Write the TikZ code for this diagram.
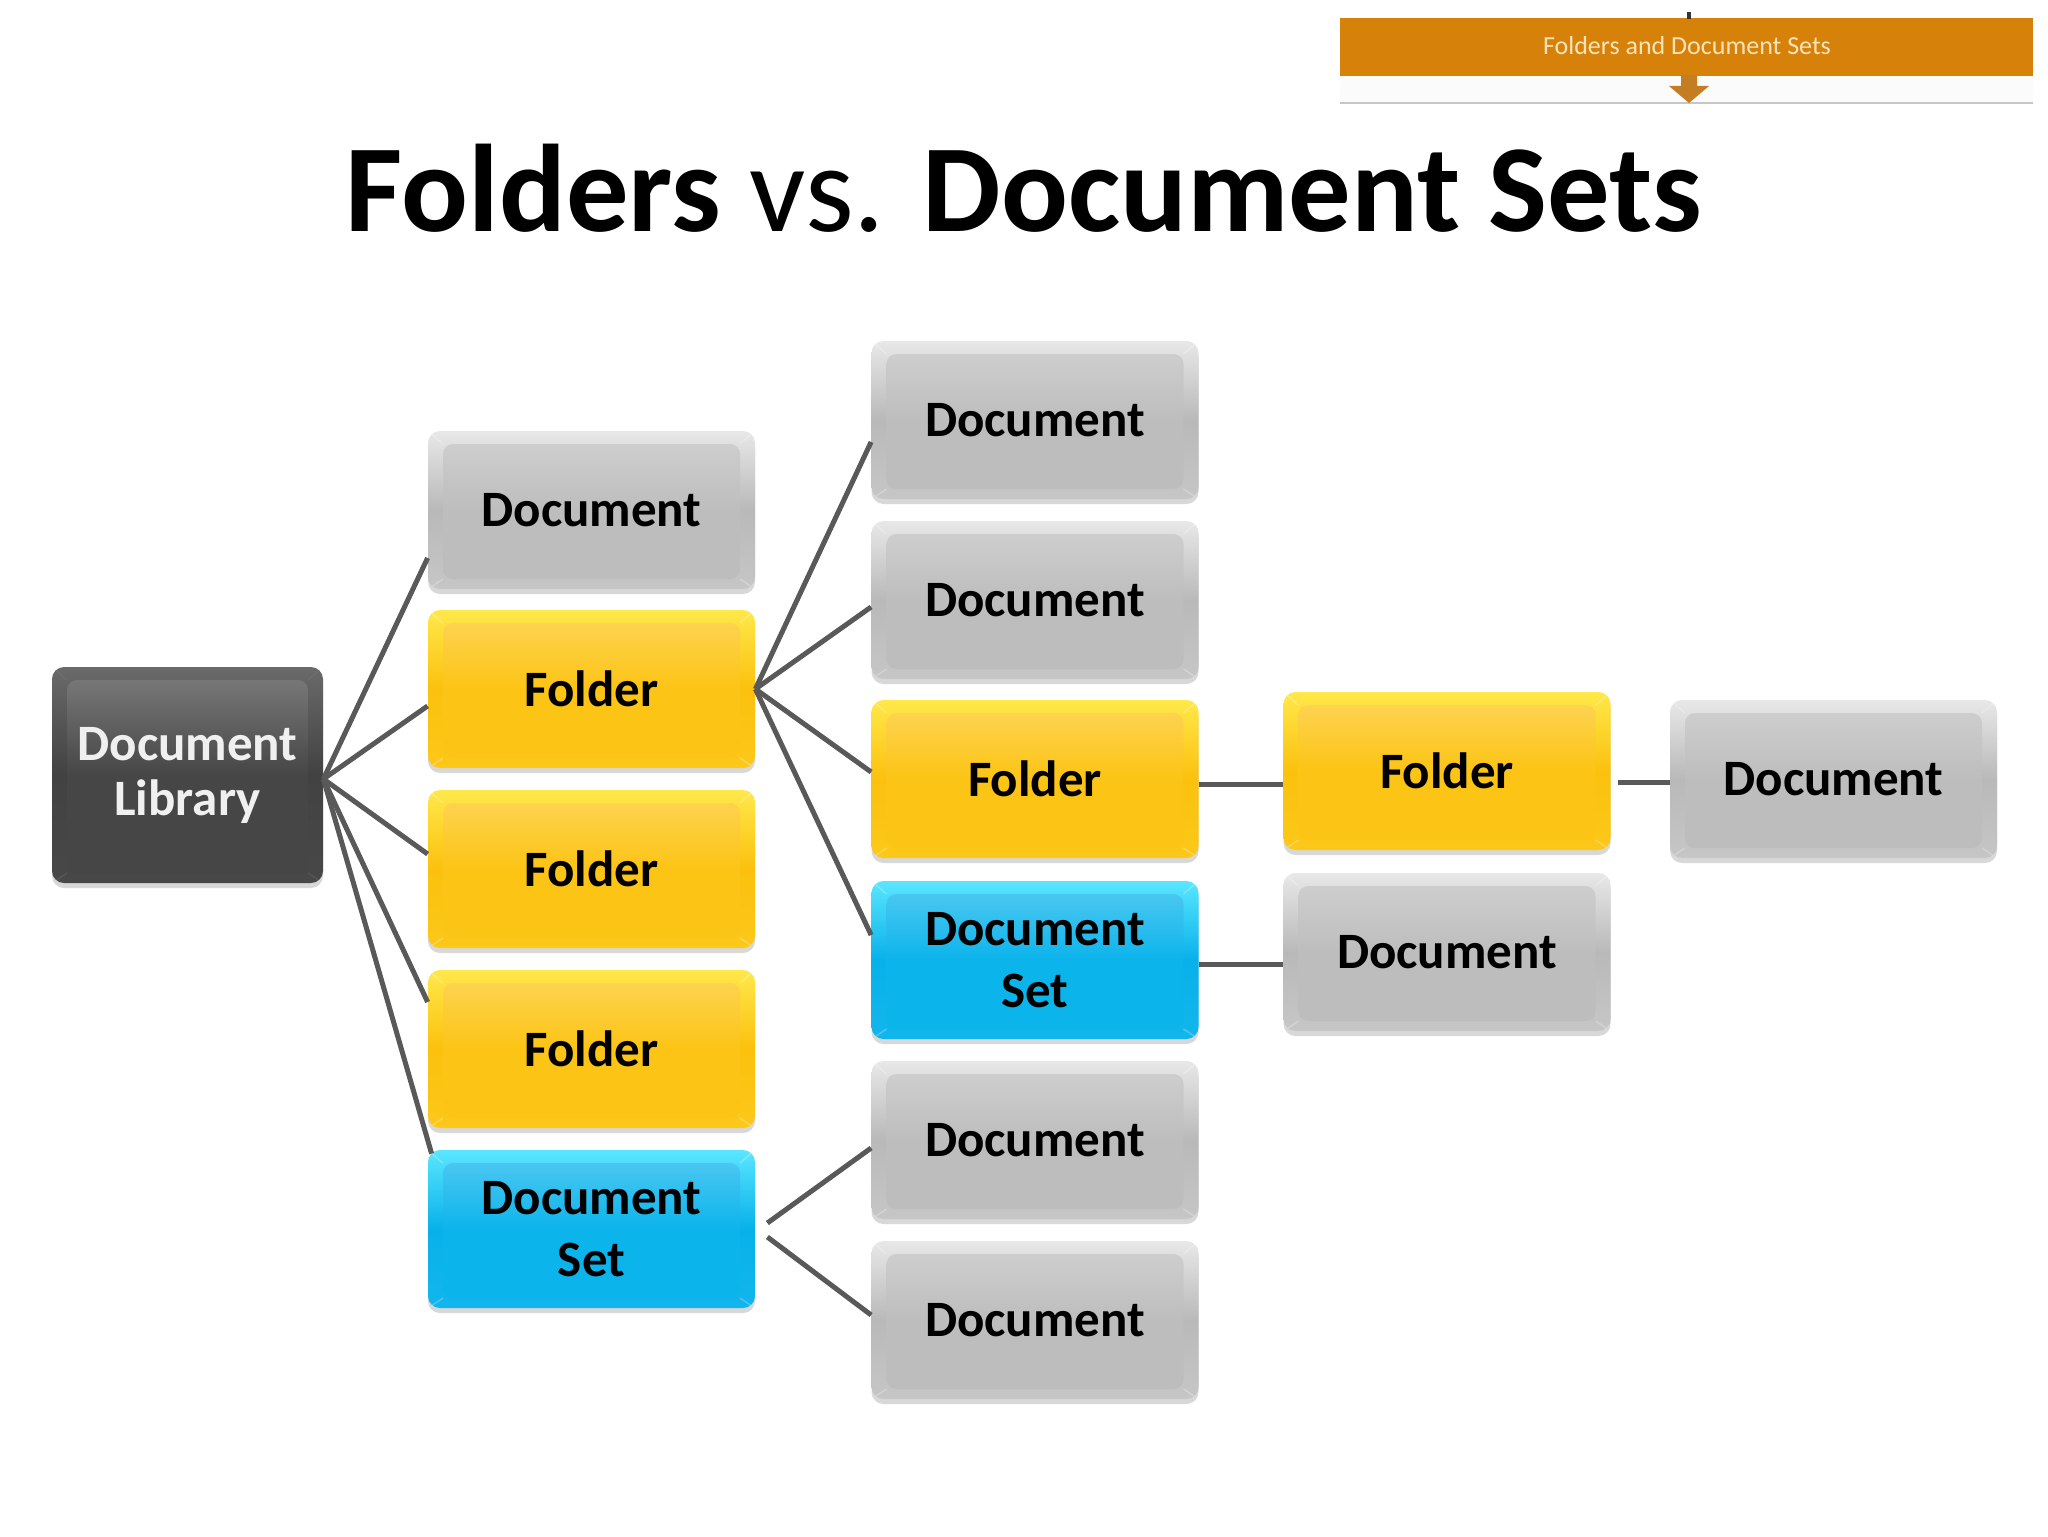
\documentclass[tikz,border=0pt]{standalone}
\usepackage{fontspec}
\setmainfont{Carlito}
\usetikzlibrary{shadows,calc}
\definecolor{gTop}{HTML}{E8E8E8}\definecolor{gBase}{HTML}{B9B9B9}\definecolor{gBot}{HTML}{C6C6C6}\definecolor{gIn}{HTML}{BDBDBD}
\definecolor{yTop}{HTML}{FFE84A}\definecolor{yBase}{HTML}{FBC10E}\definecolor{yBot}{HTML}{FCC819}\definecolor{yIn}{HTML}{FCC414}
\definecolor{bTop}{HTML}{5AE6FF}\definecolor{bBase}{HTML}{08B1EA}\definecolor{bBot}{HTML}{12B6EC}\definecolor{bIn}{HTML}{0CB4EC}
\definecolor{dTop}{HTML}{6A6A6A}\definecolor{dBase}{HTML}{424242}\definecolor{dBot}{HTML}{484848}\definecolor{dIn}{HTML}{464646}
\definecolor{linegray}{HTML}{595959}
\definecolor{bannerorange}{HTML}{D6820A}
\definecolor{bannertxt}{HTML}{FBE3B8}
\definecolor{arroworange}{HTML}{C47D22}
\newcommand\boxfont{\bfseries\fontsize{25.5}{31}\selectfont}
\newcommand\libfont{\bfseries\fontsize{25.5}{27.5}\selectfont}
\tikzset{
  bev/.style 2 args={path picture={
    \shade[top color=#1!70!white, bottom color=#1, middle color=#1, rounded corners=5pt]
      ([xshift=7.5pt,yshift=-6.5pt]path picture bounding box.north west) rectangle ([xshift=-7.5pt,yshift=5pt]path picture bounding box.south east);
    \draw[#2, line width=.7pt, opacity=.25]
      (path picture bounding box.north west) -- ([xshift=7.5pt,yshift=-6.5pt]path picture bounding box.north west)
      (path picture bounding box.north east) -- ([xshift=-7.5pt,yshift=-6.5pt]path picture bounding box.north east)
      (path picture bounding box.south west) -- ([xshift=7.5pt,yshift=5pt]path picture bounding box.south west)
      (path picture bounding box.south east) -- ([xshift=-7.5pt,yshift=5pt]path picture bounding box.south east);
  }},
  bx/.style={rounded corners=6pt, minimum width=163.5pt, minimum height=79pt, inner sep=0pt,
    align=center, font=\boxfont, text=black,
    drop shadow={shadow xshift=0pt, shadow yshift=-2.5pt, opacity=0.25, fill=black!60}},
  graybx/.style={bx, top color=gTop, bottom color=gBot, middle color=gBase, bev={gIn}{white}},
  yelbx/.style={bx, top color=yTop, bottom color=yBot, middle color=yBase, bev={yIn}{white}},
  bluebx/.style={bx, top color=bTop, bottom color=bBot, middle color=bBase, bev={bIn}{white}},
  darkbx/.style={bx, top color=dTop, bottom color=dBot, middle color=dBase, bev={dIn}{gray},
    minimum width=135.5pt, minimum height=108pt, font=\libfont, text=white!94!black},
  conn/.style={draw=linegray, line width=2.5pt},
}
\begin{document}
\begin{tikzpicture}[x=0.5pt,y=-0.5pt]
\useasboundingbox[fill=white] (0,0) rectangle (2048,1536);

% banner (top right)
\fill[bannerorange] (1340,18) rectangle (2033,76);
\fill[white!97!gray] (1340,76) rectangle (2033,103);
\draw[gray!45, line width=1pt] (1340,103) -- (2033,103);
\fill[black!80] (1687,12) rectangle (1691,19);
\fill[arroworange] (1681,75) -- (1697,75) -- (1697,86) -- (1709,86) -- (1689,103) -- (1669,86) -- (1681,86) -- cycle;
\node[text=bannertxt, font=\fontsize{13}{15}\selectfont] (banner) at (1687,46) {Folders and Document Sets};

% title
\node[anchor=base, font=\fontsize{62.3}{70}\selectfont, inner sep=0pt] (title) at (1024,231)
  {\textbf{Folders} vs. \textbf{Document Sets}};

% boxes
\node[darkbx] (lib) at (187.5,775) {Document\\Library};

\node[graybx] (c1doc) at (591.5,510) {Document};
\node[yelbx]  (c1f1)  at (591.5,689) {Folder};
\node[yelbx]  (c1f2)  at (591.5,869) {Folder};
\node[yelbx]  (c1f3)  at (591.5,1049) {Folder};
\node[bluebx] (c1set) at (591.5,1229) {Document\\Set};

\node[graybx] (c2doc1) at (1035,420) {Document};
\node[graybx] (c2doc2) at (1035,600) {Document};
\node[yelbx]  (c2f)    at (1035,779) {Folder};
\node[bluebx] (c2s)    at (1035,960) {Document\\Set};
\node[graybx] (c2doc3) at (1035,1140) {Document};
\node[graybx] (c2doc4) at (1035,1320) {Document};

\node[yelbx]  (c3f) at (1447,771) {Folder};
\node[graybx] (c3d) at (1447,952) {Document};

\node[graybx] (c4d) at (1833.5,779) {Document};

% connectors
\draw[conn] ([yshift=-2pt]lib.east) -- ([yshift=-24pt]c1doc.west);
\draw[conn] ([yshift=-2pt]lib.east) -- ([yshift=-8.5pt]c1f1.west);
\draw[conn] ([yshift=-2pt]lib.east) -- ([yshift=7.5pt]c1f2.west);
\draw[conn] ([yshift=-2pt]lib.east) -- ([yshift=23.5pt]c1f3.west);
\draw[conn] ([yshift=-2pt]lib.east) -- ([xshift=2pt,yshift=-2pt]c1set.north west);

\draw[conn] (c1f1.east) -- ([yshift=-11pt]c2doc1.west);
\draw[conn] (c1f1.east) -- ([yshift=-3.5pt]c2doc2.west);
\draw[conn] (c1f1.east) -- ([yshift=3.5pt]c2f.west);
\draw[conn] (c1f1.east) -- ([yshift=12.5pt]c2s.west);

\draw[conn] ([xshift=6pt,yshift=3pt]c1set.east) -- ([yshift=-4pt]c2doc3.west);
\draw[conn] ([xshift=6pt,yshift=-4pt]c1set.east) -- ([yshift=2.5pt]c2doc4.west);

\draw[conn] ($(c2f.east)+(0,5)$) -- ($(c2f.east -| c3f.west)+(0,5)$);
\draw[conn] ($(c3f.east |- c4d.west)+(7,3)$) -- ($(c4d.west)+(0,3)$);
\draw[conn] ($(c2s.east)+(0,4)$) -- ($(c2s.east -| c3d.west)+(0,4)$);
\end{tikzpicture}
\end{document}
